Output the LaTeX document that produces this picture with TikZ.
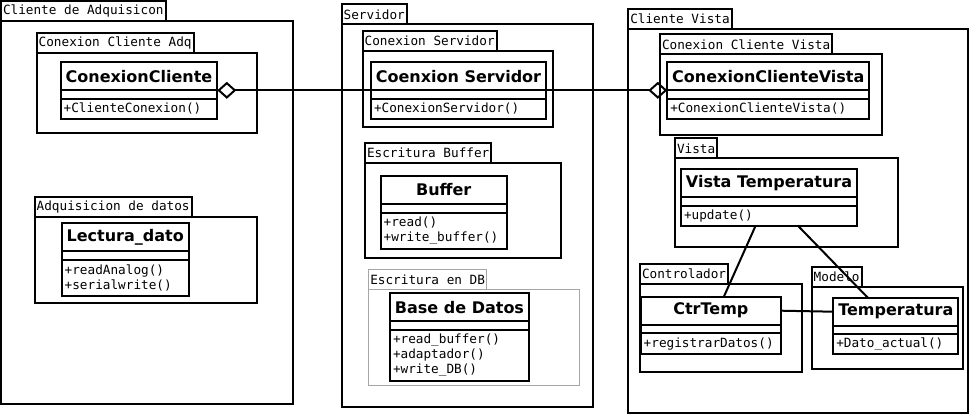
\documentclass[tikz,border=0pt]{standalone}
\usepackage{fontspec}
\setmainfont{DejaVu Sans}
\setmonofont{DejaVu Sans Mono}
\usetikzlibrary{arrows.meta, positioning}

\begin{document}
\begin{tikzpicture}[x=1pt, y=-1pt,
    pkgbody/.style={draw, line width=2pt, outer sep=0pt, anchor=north west},
    pkgtab/.style={draw, line width=2pt, outer sep=0pt, anchor=south west, minimum height=20pt, inner xsep=2pt, inner ysep=0pt, font=\ttfamily\fontsize{12.7}{15}\selectfont},
    clstitle/.style={draw, line width=2pt, outer sep=0pt, anchor=north west, minimum width=#1, minimum height=28pt, inner sep=0pt, font=\bfseries\fontsize{16}{19}\selectfont},
    clsattr/.style={draw, line width=2pt, outer sep=0pt, minimum width=#1, minimum height=8.5pt, inner sep=0pt},
    clsmeth/.style={draw, line width=2pt, outer sep=0pt, text width={#1-6pt}, inner xsep=3pt, inner ysep=1pt, align=left, font=\ttfamily\fontsize{12.7}{15}\selectfont},
    assoc/.style={line width=2pt},
    aggr/.style={line width=2pt, {Diamond[open, length=19pt, width=17pt]}-{Diamond[open, length=19pt, width=17pt]}}]
    \useasboundingbox (0,0) rectangle (971,415);

    % Packages
    \node[pkgbody, minimum width=291.7pt, minimum height=383.3pt] (adqPkg) at (1,20.7) {};
    \node[pkgtab] (adqTab) at (adqPkg.north west) {Cliente de Adquisicon};
    \node[pkgbody, minimum width=220pt, minimum height=80pt] (ccAdqPkg) at (36.7,53.3) {};
    \node[pkgtab] (ccAdqTab) at (ccAdqPkg.north west) {Conexion Cliente Adq};
    \node[pkgbody, minimum width=222pt, minimum height=86.3pt] (datosPkg) at (34.7,217) {};
    \node[pkgtab] (datosTab) at (datosPkg.north west) {Adquisicion de datos};

    \node[pkgbody, minimum width=251.6pt, minimum height=383pt] (srvPkg) at (341.7,24.3) {};
    \node[pkgtab] (srvTab) at (srvPkg.north west) {Servidor};
    \node[pkgbody, minimum width=190.6pt, minimum height=76.3pt] (conSrvPkg) at (362.7,51) {};
    \node[pkgtab] (conSrvTab) at (conSrvPkg.north west) {Conexion Servidor};
    \node[pkgbody, minimum width=195.7pt, minimum height=95.6pt] (bufPkg) at (365,162.7) {};
    \node[pkgtab] (bufTab) at (bufPkg.north west) {Escritura Buffer};
    \node[pkgbody, draw=gray!70, line width=1pt, minimum width=211pt, minimum height=96.4pt] (dbPkg) at (368.3,289.3) {};
    \node[pkgtab, draw=gray!70, line width=1pt] (dbTab) at (dbPkg.north west) {Escritura en DB};

    \node[pkgbody, minimum width=340pt, minimum height=384.3pt] (vistaCliPkg) at (628.3,29) {};
    \node[pkgtab] (vistaCliTab) at (vistaCliPkg.north west) {Cliente Vista};
    \node[pkgbody, minimum width=222pt, minimum height=80.4pt] (ccVistaPkg) at (660,54.3) {};
    \node[pkgtab] (ccVistaTab) at (ccVistaPkg.north west) {Conexion Cliente Vista};
    \node[pkgbody, minimum width=222.7pt, minimum height=89pt] (vistaPkg) at (675,158.3) {};
    \node[pkgtab] (vistaTab) at (vistaPkg.north west) {Vista};
    \node[pkgbody, minimum width=162.3pt, minimum height=87.7pt] (ctrlPkg) at (640,284) {};
    \node[pkgtab] (ctrlTab) at (ctrlPkg.north west) {Controlador};
    \node[pkgbody, minimum width=151pt, minimum height=82.3pt] (modeloPkg) at (811.7,286.7) {};
    \node[pkgtab] (modeloTab) at (modeloPkg.north west) {Modelo};

    % Classes
    \node[clstitle=156.6pt] (cc) at (60.7,62.3) {ConexionCliente};
    \node[clsattr=156.6pt, below=0pt of cc] (ccAttr) {};
    \node[clsmeth=156.6pt, below=0pt of ccAttr, minimum height=20pt] (ccMeth) {+ClienteConexion()};

    \node[clstitle=127pt] (lect) at (61.7,223) {Lectura\_dato};
    \node[clsattr=127pt, below=0pt of lect] (lectAttr) {};
    \node[clsmeth=127pt, below=0pt of lectAttr, minimum height=36pt] (lectMeth) {+readAnalog()\\+serialwrite()};

    \node[clstitle=175pt] (cs) at (371,62.3) {Coenxion Servidor};
    \node[clsattr=175pt, below=0pt of cs] (csAttr) {};
    \node[clsmeth=175pt, below=0pt of csAttr, minimum height=20pt] (csMeth) {+ConexionServidor()};

    \node[clstitle=126pt] (buf) at (380.7,176) {Buffer};
    \node[clsattr=126pt, below=0pt of buf] (bufAttr) {};
    \node[clsmeth=126pt, below=0pt of bufAttr, minimum height=36pt] (bufMeth) {+read()\\+write\_buffer()};

    \node[clstitle=139pt] (db) at (390,293.3) {Base de Datos};
    \node[clsattr=139pt, below=0pt of db] (dbAttr) {};
    \node[clsmeth=139pt, below=0pt of dbAttr, minimum height=51.5pt] (dbMeth) {+read\_buffer()\\+adaptador()\\+write\_DB()};

    \node[clstitle=202pt] (ccv) at (667.3,62.3) {ConexionClienteVista};
    \node[clsattr=202pt, below=0pt of ccv] (ccvAttr) {};
    \node[clsmeth=202pt, below=0pt of ccvAttr, minimum height=20pt] (ccvMeth) {+ConexionClienteVista()};

    \node[clstitle=176pt] (vt) at (681,169) {Vista Temperatura};
    \node[clsattr=176pt, below=0pt of vt] (vtAttr) {};
    \node[clsmeth=176pt, below=0pt of vtAttr, minimum height=20pt] (vtMeth) {+update()};

    \node[clstitle=140.3pt] (ctr) at (640.7,296.7) {CtrTemp};
    \node[clsattr=140.3pt, below=0pt of ctr] (ctrAttr) {};
    \node[clsmeth=140.3pt, below=0pt of ctrAttr, minimum height=21pt] (ctrMeth) {+registrarDatos()};

    \node[clstitle=125pt] (temp) at (833.3,297.7) {Temperatura};
    \node[clsattr=125pt, below=0pt of temp] (tempAttr) {};
    \node[clsmeth=125pt, below=0pt of tempAttr, minimum height=20pt] (tempMeth) {+Dato\_actual()};

    % Relations
    \draw[aggr] (cc.south east) -- (ccv.south west);
    \draw[assoc] ([xshift=-13.3pt]vtMeth.south) -- ([xshift=13pt]ctr.north);
    \draw[assoc] ([xshift=28.7pt]vtMeth.south) -- ([xshift=-28pt]temp.north);
    \draw[assoc] (ctr.east) -- (temp.west);
\end{tikzpicture}
\end{document}
